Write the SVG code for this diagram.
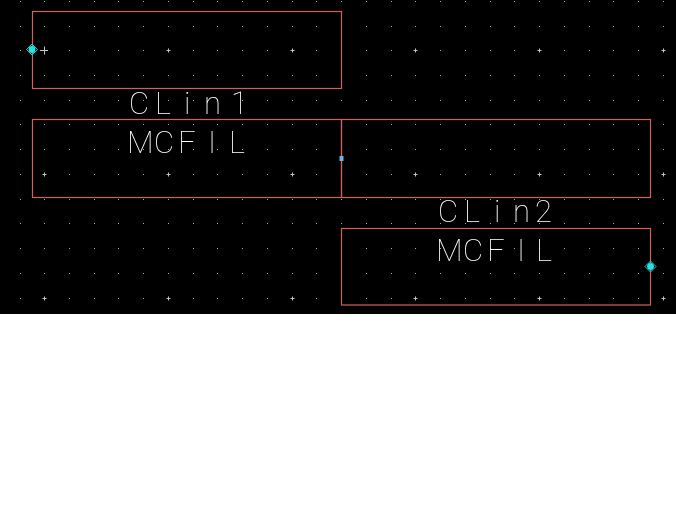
<svg xmlns="http://www.w3.org/2000/svg" width="676" height="512" viewBox="0 0 676 512">
<style>
.box{fill:none;stroke:#cf625e;stroke-width:1.2}
.lbl{fill:#fff;font-family:"Roboto","Liberation Sans",sans-serif;font-weight:100;font-size:31px;filter:url(#gray)}
.dot{fill:#a8a8a8}
.cross{stroke:#c4c4c4;stroke-width:1;fill:none}
.handle{fill:#1fe6e6}
.handle2{fill:none;stroke:#1fc8c8;stroke-width:1}
</style>
<defs>
<filter id="gray" x="-5%" y="-20%" width="110%" height="140%"><feOffset dx="0" dy="0"/></filter>
<path id="row" class="dot" d="M20 0h1v1h-1zM44 0h1v1h-1zM69 0h1v1h-1zM94 0h1v1h-1zM118 0h1v1h-1zM143 0h1v1h-1zM168 0h1v1h-1zM193 0h1v1h-1zM217 0h1v1h-1zM242 0h1v1h-1zM267 0h1v1h-1zM292 0h1v1h-1zM316 0h1v1h-1zM341 0h1v1h-1zM366 0h1v1h-1zM391 0h1v1h-1zM415 0h1v1h-1zM440 0h1v1h-1zM465 0h1v1h-1zM490 0h1v1h-1zM514 0h1v1h-1zM539 0h1v1h-1zM564 0h1v1h-1zM589 0h1v1h-1zM613 0h1v1h-1zM638 0h1v1h-1zM663 0h1v1h-1z"/>
<path id="crossrow" class="cross" d="M166.500 .5h4M168.500 -1.500v4M290.500 .5h4M292.500 -1.500v4M413.500 .5h4M415.500 -1.500v4M537.500 .5h4M539.500 -1.500v4M661.500 .5h4M663.500 -1.500v4"/>
</defs>
<rect id="background" x="0" y="0" width="676" height="314" fill="#000"/>
<g id="grid">
<use href="#row" y="1"/><use href="#row" y="26"/><use href="#row" y="50"/><use href="#row" y="75"/><use href="#row" y="100"/><use href="#row" y="124"/><use href="#row" y="149"/><use href="#row" y="174"/><use href="#row" y="199"/><use href="#row" y="223"/><use href="#row" y="248"/><use href="#row" y="273"/><use href="#row" y="298"/>
<use href="#crossrow" y="50"/><use href="#crossrow" y="174"/><use href="#crossrow" y="298"/>
<path class="cross" d="M40 50.500h8M44.500 46.500v8M42.500 174.500h4M44.500 172.500v4M42.500 298.500h4M44.500 296.500v4"/>
</g>
<g id="clin1">
<rect class="box" x="32.500" y="11.500" width="309" height="77"/>
<text class="lbl" y="114" x="129 155 184 204 231">CLin1</text>
</g>
<g id="mcfil1">
<rect class="box" x="32.500" y="119.500" width="309" height="78"/>
<text class="lbl" y="152.500" x="127 154 178 208 229">MCFIL</text>
</g>
<g id="mcfil-mid">
<rect class="box" x="341.500" y="119.500" width="309" height="78"/>
</g>
<g id="clin2">
<rect class="box" x="341.500" y="228.500" width="309" height="76.500"/>
<text class="lbl" y="222" x="438 464 494 513 535">CLin2</text>
<text class="lbl" y="261" x="436 463 487 517 536">MCFIL</text>
</g>
<g id="handles">
<circle class="handle" cx="32" cy="49.500" r="3.400"/><path class="handle2" d="M32 44l5.500 5.500-5.500 5.500-5.500-5.500z"/>
<circle class="handle" cx="650.500" cy="266.500" r="3.400"/><path class="handle2" d="M650.500 261l5.500 5.500-5.500 5.500-5.500-5.500z"/>
<rect x="339.500" y="156" width="4" height="5" fill="#6cb4e8"/>
</g>
</svg>
